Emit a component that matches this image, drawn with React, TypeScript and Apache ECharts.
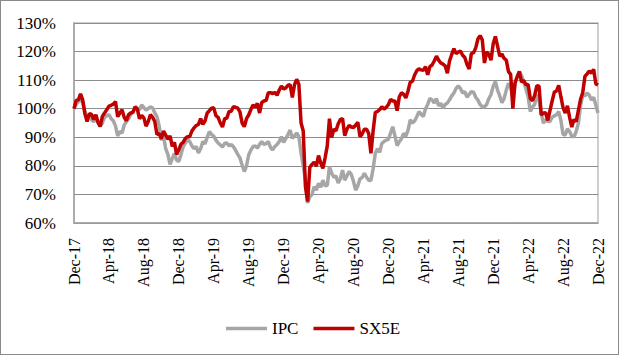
import React, { useEffect, useRef } from "react";
import * as echarts from "echarts";

// x axis: months since Dec-17, one tick label every 4 months
const xLabels = [
  "Dec-17", "Apr-18", "Aug-18", "Dec-18", "Apr-19", "Aug-19", "Dec-19", "Apr-20",
  "Aug-20", "Dec-20", "Apr-21", "Aug-21", "Dec-21", "Apr-22", "Aug-22", "Dec-22",
];
const yTicks = [60, 70, 80, 90, 100, 110, 120, 130];

// values sampled four times a month (index / 4 = months since Dec-17), in %
const ipc = [
  100, 101.5, 102.5, 103.2,
  102.2, 99, 97, 98,
  96.1, 95.5, 96.5, 95,
  93.8, 95, 97, 97.5,
  98, 96.5, 95.8, 94,
  90.5, 92, 91.5, 94.3,
  95.5, 96.5, 98, 99,
  100.7, 100.2, 99.6, 101.3,
  100.4, 99.5, 100.1, 100.6,
  100.3, 98.5, 97.2, 94,
  89, 90.5, 86, 84,
  80.5, 82.5, 84.4, 82,
  81.5, 84, 86.7, 88,
  89.1, 88.5, 87, 86,
  86.8, 84.5, 86, 88.5,
  87.7, 90, 92, 91,
  90.4, 89, 88, 87.3,
  86.6, 87.9, 88, 87,
  87.5, 86.7, 85.5, 84,
  82.8, 80.3, 78, 80,
  83.8, 85.5, 86.7, 87,
  86.2, 87.5, 88.5, 87.5,
  87.8, 88.5, 86.5, 85.6,
  86.8, 87.5, 88.5, 90.2,
  88.2, 89.5, 91, 92.5,
  89.6, 90.5, 91.5, 90.2,
  84.5, 80, 75, 67,
  69.2, 70, 72.7, 71.5,
  73.9, 72.5, 75, 73,
  73.2, 79.7, 77.5, 76,
  76.4, 74, 75.5, 78.5,
  75, 76.5, 78, 77,
  74.6, 71.5, 73, 75.5,
  75.9, 77.4, 76, 75,
  74.9, 79, 84.4, 86,
  84.7, 87.9, 88.5, 89,
  89.3, 91.5, 93.7, 90.5,
  87.1, 88.5, 89.5, 91.4,
  90.4, 92.5, 96.1, 95,
  95.7, 97.2, 99, 98,
  97.3, 100, 101.5, 103.6,
  103.1, 102, 103.6, 101,
  101.9, 100.1, 101.5, 102,
  103.1, 104.5, 105.5, 107.1,
  108, 107.1, 105.5, 106,
  104.1, 105, 106, 105.8,
  104, 103, 101.5, 100.7,
  100.7, 101.5, 103.5, 105,
  107.9, 109.5, 106.5, 104.5,
  102.1, 103.6, 106.5, 108.9,
  107.4, 104, 109, 111,
  113, 111.5, 109.5, 107,
  104.2, 99, 100.5, 101.5,
  104.9, 103, 98.5, 94.9,
  96.3, 95.5, 95.5, 97,
  97.5, 97.9, 99, 96,
  91, 90.8, 93, 92,
  90.4, 90.2, 92, 94.9,
  101, 104.8, 104.5, 105.5,
  104.7, 103, 104, 101.3,
  98.5,
];

const sx5e = [
  100, 102.9, 103.1, 105.2,
  103, 98.2, 95.5, 98.2,
  98.1, 96.2, 97.9, 95.3,
  93.8, 97.3, 98.5, 99.6,
  100.9, 101.2, 101.6, 102.5,
  97.2, 98.5, 99.6, 97,
  95.8, 97.9, 98.5, 98.7,
  100.6, 99.9, 96.5, 97.6,
  96.8, 93.9, 95.5, 97.9,
  97, 95.5, 91, 91.3,
  89.5, 92.2, 90.8, 89.3,
  90.5, 86.8, 88.2, 84,
  85.6, 87.6, 88.2, 89.6,
  90.2, 90.2, 92.2, 93.3,
  94.1, 94.5, 96.5, 94.5,
  95.7, 98.5, 99.3, 100.2,
  100.3, 97.6, 97, 95,
  93.6, 96.5, 96.7, 99,
  99.1, 100.7, 100.5, 100.2,
  98.9, 95, 93.7, 96.5,
  97.8, 99.7, 101.3, 100.5,
  101.9, 98.5, 102.2, 102.7,
  102.9, 105.6, 105.6, 105.3,
  105.7, 104.7, 106.5, 107.9,
  106.9, 107.3, 108.2, 108.4,
  103.9, 108.4, 110.3, 108.5,
  95, 92.2, 72.8, 67.5,
  79.5, 80.5, 81.3, 79.9,
  83.6, 81, 79.1, 82.8,
  87, 96.5, 89.9, 92.8,
  92.3, 94.7, 96.2, 96.6,
  90.6, 92.8, 94.2, 93.6,
  93.4, 94.2, 95.3, 90.2,
  91.2, 92.8, 92.8, 91.3,
  84.4, 92.2, 98.7, 99,
  99.7, 100.7, 99.9, 100.5,
  101.4, 103.3, 102.7, 102.7,
  99.3, 104.2, 105.6, 105,
  103.8, 106.2, 109.3, 109.6,
  111.8, 113.3, 113.9, 113.6,
  113.4, 114.7, 111.9, 114.7,
  115.3, 116.7, 118.4, 117,
  116, 115.6, 115, 112.4,
  116.7, 119, 121, 119.3,
  119.8, 120.2, 118.7, 117.9,
  115.5, 113.9, 119.3, 119.6,
  121.3, 124.4, 125.6, 124.1,
  116, 119.9, 119, 117,
  122.7, 125.3, 121.9, 118.4,
  119.1, 117.6, 117, 113,
  112, 100, 109, 111.3,
  113, 109.3, 109.9, 108.4,
  108.5, 103.6, 102.8, 104.7,
  108.1, 107.9, 97.8, 98.5,
  98.6, 95.9, 99.3, 102.7,
  105.8, 106.2, 108.2, 104.2,
  100.4, 98.5, 101, 97,
  93.6, 96.2, 95.5, 99.3,
  103.3, 105.6, 111.3, 112.2,
  113.2, 112.4, 113.8, 108.7,
  108.3,
];

const seriesNames = ["IPC", "SX5E"];
const FONT = "'Liberation Serif', 'Times New Roman', serif";

export default function App() {
  const ref = useRef<HTMLDivElement>(null);

  useEffect(() => {
    if (!ref.current) return;
    const chart = echarts.init(ref.current, null, { renderer: "svg" });
    const toPoints = (arr: number[]) => arr.map((v, i) => [i / 4, v]);
    chart.setOption({
      animation: false,
      backgroundColor: "transparent",
      grid: {
        left: 74,
        right: 24,
        top: 23,
        bottom: 133,
        show: true,
        borderColor: "#bfbfbf",
        borderWidth: 1.5,
      },
      legend: {
        data: seriesNames,
        left: 221,
        top: 315,
        icon: "rect",
        itemWidth: 41,
        itemHeight: 3.5,
        itemGap: 15,
        textStyle: { fontFamily: FONT, fontSize: 17, fontWeight: "normal", color: "#000" },
      },
      xAxis: {
        type: "value",
        min: 0,
        max: 60,
        interval: 4,
        axisLine: { show: true, lineStyle: { color: "#a0a0a0", width: 1.5 } },
        axisTick: { show: false },
        splitLine: { show: false },
        axisLabel: {
          rotate: 90,
          margin: 15,
          fontFamily: FONT,
          fontSize: 16,
          fontWeight: "normal",
          color: "#000",
          formatter: (v: number) => xLabels[Math.round(v / 4)] ?? "",
        },
      },
      yAxis: {
        type: "value",
        min: yTicks[0],
        max: yTicks[yTicks.length - 1],
        interval: 10,
        axisLine: { show: true, lineStyle: { color: "#a0a0a0", width: 1.5 } },
        axisTick: { show: false },
        splitLine: { show: true, lineStyle: { color: "#8c8c8c", width: 1 } },
        axisLabel: {
          margin: 18,
          fontFamily: FONT,
          fontSize: 17,
          fontWeight: "normal",
          color: "#000",
          formatter: "{value}%",
        },
      },
      series: [
        {
          name: seriesNames[0],
          type: "line",
          data: toPoints(ipc),
          showSymbol: false,
          symbol: "none",
          lineStyle: { color: "#a6a6a6", width: 3.5 },
          itemStyle: { color: "#a6a6a6" },
          z: 2,
        },
        {
          name: seriesNames[1],
          type: "line",
          data: toPoints(sx5e),
          showSymbol: false,
          symbol: "none",
          lineStyle: { color: "#c00000", width: 3.5 },
          itemStyle: { color: "#c00000" },
          z: 3,
        },
      ],
    });
    return () => chart.dispose();
  }, []);

  return (
    <div style={{ position: "fixed", left: 0, top: 0, width: 622, height: 356, background: "#fff" }}>
      <div
        style={{
          position: "absolute",
          left: 0,
          top: 0,
          width: 619,
          height: 355,
          border: "1px solid #8a8a8a",
          boxSizing: "border-box",
        }}
      />
      <div ref={ref} style={{ position: "absolute", left: 0, top: 0, width: 622, height: 356 }} />
    </div>
  );
}
